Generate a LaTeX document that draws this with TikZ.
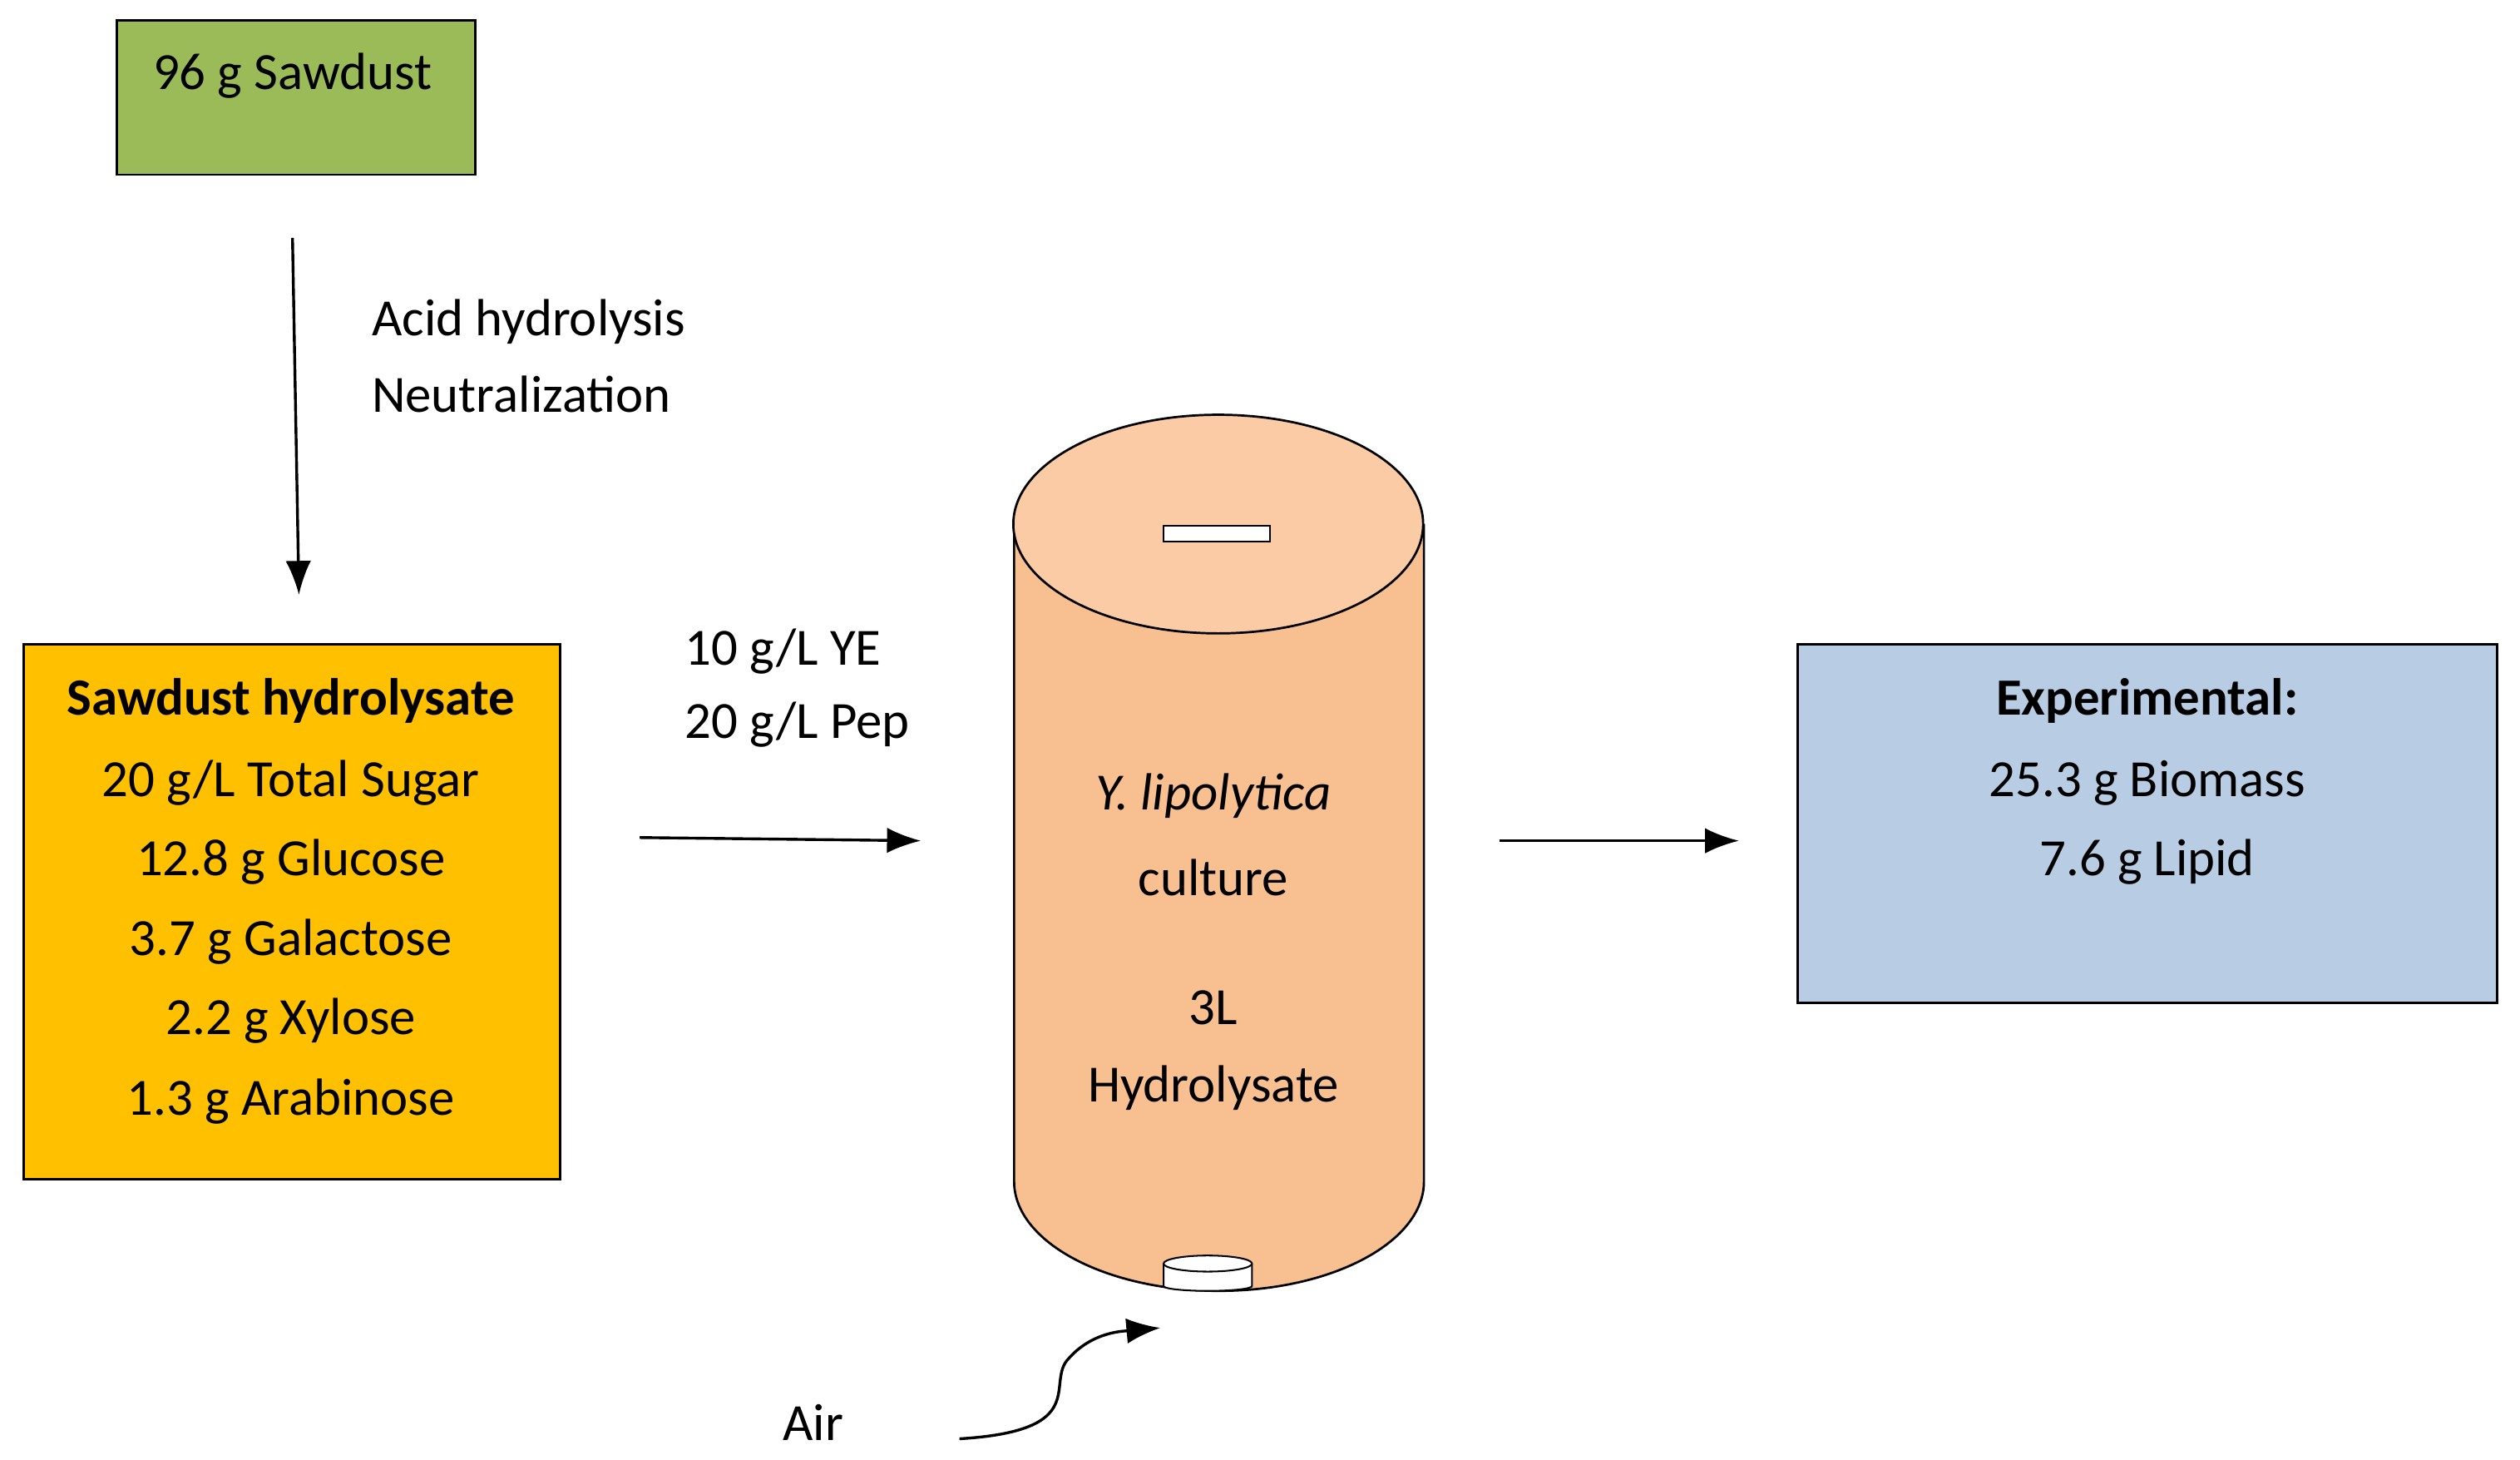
\documentclass[tikz,border=0pt]{standalone}
\usepackage{fontspec}
\setmainfont{Carlito}
\usetikzlibrary{arrows.meta}
\begin{document}
\begin{tikzpicture}[x=0.02cm,y=-0.02cm,
  txt/.style={font=\fontsize{18.5}{22}\selectfont, inner sep=0pt},
  box/.style={draw=black, line width=0.8pt},
  arr/.style={-{Latex[length=12pt,width=9pt]}, line width=1pt}]
\useasboundingbox (0,0) rectangle (1568,908);
\definecolor{grn}{HTML}{9BBB59}
\definecolor{org}{HTML}{FFC000}
\definecolor{blu}{HTML}{B8CCE4}
\definecolor{cyl}{HTML}{F8BF90}
\definecolor{cyltop}{HTML}{FACBA5}
% green box
\node[box, fill=grn, minimum width=223*0.02cm, minimum height=96*0.02cm, anchor=north west] (g) at (72,12) {};
\node[txt] (gt) at (182,47) {96 g Sawdust};
\coordinate (a1) at (182,148);
\coordinate (a2) at (186,370);
\draw[arr] (a1) -- (a2);
\node[txt, anchor=west] (l1) at (231,200) {Acid hydrolysis};
\node[txt, anchor=west] (l2) at (231,245) {Neutralization};
% orange box
\node[box, fill=org, minimum width=334*0.02cm, minimum height=333*0.02cm, anchor=north west] (o) at (14,400) {};
\node[txt, font=\fontsize{18.5}{22}\selectfont\bfseries] (o1) at (181,436) {Sawdust hydrolysate};
\node[txt] (o2) at (181,487) {20 g/L Total Sugar};
\node[txt] (o3) at (181,536) {12.8 g Glucose};
\node[txt] (o4) at (181,586) {3.7 g Galactose};
\node[txt] (o5) at (181,635) {2.2 g Xylose};
\node[txt] (o6) at (181,685) {1.3 g Arabinose};
\node[txt, anchor=west] (s1) at (426,405) {10 g/L YE};
\node[txt, anchor=west] (s2) at (426,451) {20 g/L Pep};
\coordinate (b1) at (398,521);
\coordinate (b2) at (573,523);
\draw[arr] (b1) -- (b2);
% cylinder
\draw[fill=cyl, line width=0.8pt] (631,326) -- (631,735) arc[start angle=180, end angle=360, x radius=127.5*0.02cm, y radius=68*0.02cm] -- (886,326);
\draw[fill=cyltop, line width=0.8pt] (758,326) ellipse[x radius=127.5*0.02cm, y radius=68*0.02cm];
\draw[fill=white, line width=0.6pt] (724,327) rectangle (790,337);
\draw[fill=white, line width=0.6pt] (724,786) -- (724,800) arc[start angle=180,end angle=360,x radius=27.5*0.02cm,y radius=3*0.02cm] -- (779,786);
\draw[fill=white, line width=0.6pt] (751.5,786) ellipse[x radius=27.5*0.02cm, y radius=5*0.02cm];
\node[txt, font=\fontsize{18.5}{22}\selectfont\itshape] (c1) at (755,495) {Y. lipolytica};
\node[txt] (c2) at (755,546) {culture};
\node[txt] (c3) at (755,627) {3L};
\node[txt] (c4) at (755,677) {Hydrolysate};
\coordinate (d1) at (933,523);
\coordinate (d2) at (1082,523);
\draw[arr] (d1) -- (d2);
% blue box
\node[box, fill=blu, minimum width=435*0.02cm, minimum height=223*0.02cm, anchor=north west] (e) at (1118,400) {};
\node[txt, font=\fontsize{18.5}{22}\selectfont\bfseries] (e1) at (1336,436) {Experimental:};
\node[txt] (e2) at (1336,487) {25.3 g Biomass};
\node[txt] (e3) at (1336,536) {7.6 g Lipid};
% air
\node[txt] (air) at (506,885) {Air};
\coordinate (f1) at (597,895);
\coordinate (f2) at (722,826);
\draw[arr] (f1) .. controls (680,890) and (650,860) .. (665,845) .. controls (680,828) and (700,828) .. (f2);
\end{tikzpicture}
\end{document}
